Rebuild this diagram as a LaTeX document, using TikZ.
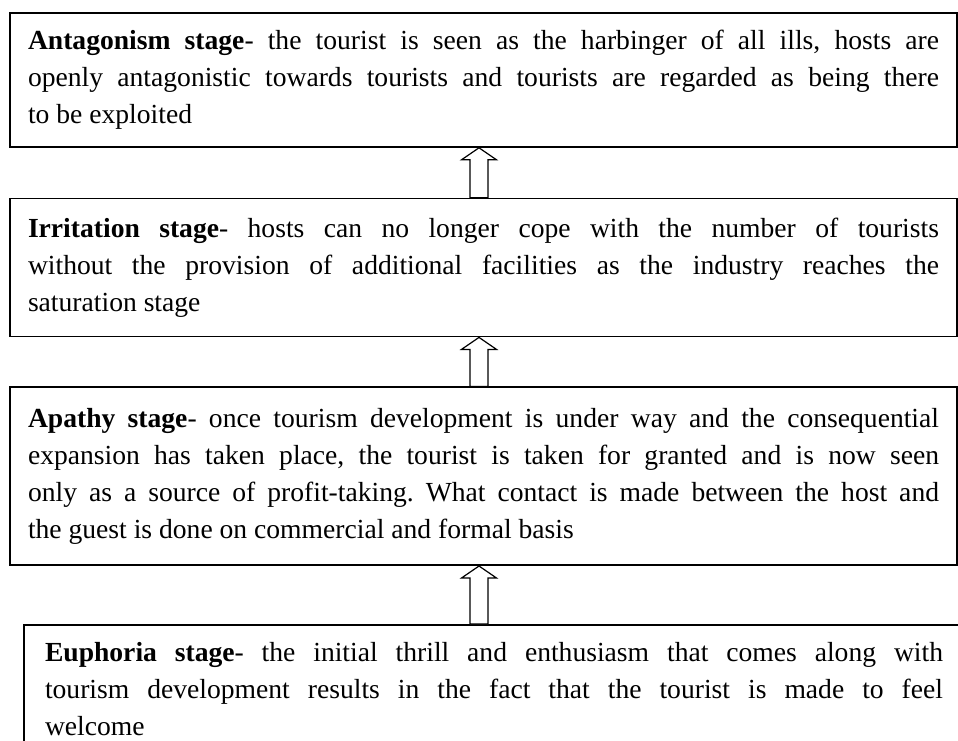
\documentclass[tikz,border=0pt]{standalone}
\usepackage{fontspec}
\setmainfont{Liberation Serif}
\usepackage{tikz}
\usetikzlibrary{positioning,calc}
\frenchspacing
\tikzstyle{stage} = [rectangle, draw, line width=0.8pt, fill=white,
    text width=455.5pt, inner xsep=9pt, align=justify,
    font=\fontsize{13.8}{18.5}\selectfont]
\tikzstyle{hollow} = [draw, line width=0.6pt, fill=white, line join=miter]
% hollow block arrow from the top of #1 up to the bottom of #2
\newcommand{\stagearrow}[2]{%
  \path[hollow] let \p1=(#2.south), \p2=(#1.north) in
    (\x1-6.75pt,\y2) -- (\x1-6.75pt,\y1-6pt) -- (\x1-11pt,\y1-6pt) --
    (\x1-2.25pt,\y1) -- (\x1+6.5pt,\y1-6pt) -- (\x1+2.25pt,\y1-6pt) --
    (\x1+2.25pt,\y2) -- cycle;}

\begin{document}
\begin{tikzpicture}[x=0.5pt, y=-0.5pt]
\useasboundingbox (0,0) rectangle (958,740);
\clip (0,0) rectangle (958,740);
    % Place nodes
\node[stage, minimum height=67pt] (ant) at (483.5,80)
{\textbf{Antagonism stage}- the tourist is seen as the harbinger of all
  ills, hosts are\linebreak openly antagonistic towards tourists and tourists are
  regarded as being there\linebreak to be exploited};
\node[stage, minimum height=69pt, below=25pt of ant] (irr)
{\textbf{Irritation stage}- hosts can no longer cope with the number of
  tourists\linebreak without the provision of additional facilities as the
  industry reaches the\linebreak saturation stage};
\node[stage, minimum height=89pt, below=24.5pt of irr] (apa)
{\textbf{Apathy stage}- once tourism development is under way and the
  consequential\linebreak expansion has taken place, the tourist is taken for
  granted and is now seen\linebreak only as a source of profit-taking. What
  contact is made between the host and\linebreak the guest is done on commercial
  and formal basis};
\node[stage, text width=449pt, inner xsep=10.5pt, minimum height=64pt,
  below=29pt of apa, xshift=5.25pt] (eup)
{\textbf{Euphoria stage}- the initial thrill and enthusiasm that comes
  along with\linebreak tourism development results in the fact that the tourist
  is made to feel\linebreak welcome};

    % Draw arrows
\stagearrow{irr}{ant}
\stagearrow{apa}{irr}
\stagearrow{eup}{apa}

\end{tikzpicture}
\end{document}
